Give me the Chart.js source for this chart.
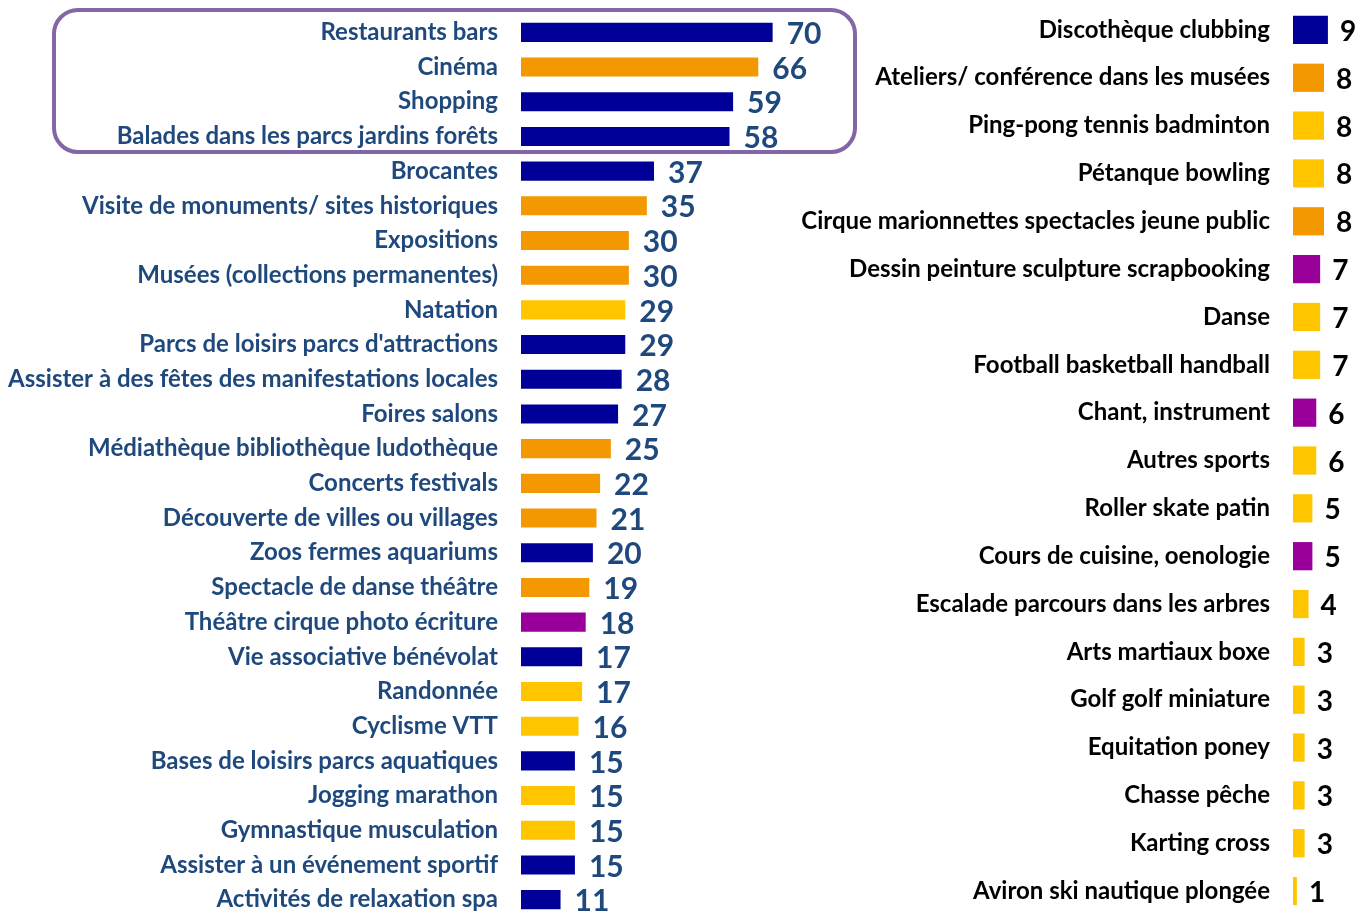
<!DOCTYPE html>
<html>
<head>
<meta charset="utf-8">
<script src="https://cdn.jsdelivr.net/npm/chart.js@4/dist/chart.umd.min.js"></script>
<style>
  html, body { margin: 0; padding: 0; background: #fff; overflow: hidden; }
  #page { position: relative; width: 1357px; height: 913px; overflow: hidden; }
  #boiteGauche { position: absolute; left: 0; top: 0; width: 860px; height: 932px; }
  #boiteDroite { position: absolute; left: 760px; top: -10px; width: 597px; height: 940px; }
  #cadre {
    position: absolute; left: 52px; top: 8px; width: 797px; height: 138px;
    border: 4px solid #8366A6; border-radius: 26px; pointer-events: none;
  }
</style>
</head>
<body>
<div id="page">
  <div id="boiteGauche"><canvas id="graphGauche"></canvas></div>
  <div id="boiteDroite"><canvas id="graphDroite"></canvas></div>
  <div id="cadre"></div>
</div>
<script>
// Activités les plus pratiquées (colonne de gauche)
const activitesGauche = [
  'Restaurants bars', 'Cinéma', 'Shopping', 'Balades dans les parcs jardins forêts',
  'Brocantes', 'Visite de monuments/ sites historiques', 'Expositions',
  'Musées (collections permanentes)', 'Natation', "Parcs de loisirs parcs d'attractions",
  'Assister à des fêtes des manifestations locales', 'Foires salons',
  'Médiathèque bibliothèque ludothèque', 'Concerts festivals',
  'Découverte de villes ou villages', 'Zoos fermes aquariums',
  'Spectacle de danse théâtre', 'Théâtre cirque photo écriture',
  'Vie associative bénévolat', 'Randonnée', 'Cyclisme VTT',
  'Bases de loisirs parcs aquatiques', 'Jogging marathon', 'Gymnastique musculation',
  'Assister à un événement sportif', 'Activités de relaxation spa'
];
const valeursGauche = [70, 66, 59, 58, 37, 35, 30, 30, 29, 29, 28, 27, 25, 22, 21, 20, 19, 18, 17, 17, 16, 15, 15, 15, 15, 11];
const typesGauche = [
  'sortie', 'culture', 'sortie', 'sortie', 'sortie', 'culture', 'culture', 'culture',
  'sport', 'sortie', 'sortie', 'sortie', 'culture', 'culture', 'culture', 'sortie',
  'culture', 'pratique', 'sortie', 'sport', 'sport', 'sortie', 'sport', 'sport',
  'sortie', 'sortie'
];

// Activités moins citées (colonne de droite)
const activitesDroite = [
  'Discothèque clubbing', 'Ateliers/ conférence dans les musées',
  'Ping-pong tennis badminton', 'Pétanque bowling',
  'Cirque marionnettes spectacles jeune public', 'Dessin peinture sculpture scrapbooking',
  'Danse', 'Football basketball handball', 'Chant, instrument', 'Autres sports',
  'Roller skate patin', 'Cours de cuisine, oenologie', 'Escalade parcours dans les arbres',
  'Arts martiaux boxe', 'Golf golf miniature', 'Equitation poney', 'Chasse pêche',
  'Karting cross', 'Aviron ski nautique plongée'
];
const valeursDroite = [9, 8, 8, 8, 8, 7, 7, 7, 6, 6, 5, 5, 4, 3, 3, 3, 3, 3, 1];
const typesDroite = [
  'sortie', 'culture', 'sport', 'sport', 'culture', 'pratique', 'sport', 'sport',
  'pratique', 'sport', 'sport', 'pratique', 'sport', 'sport', 'sport', 'sport',
  'sport', 'sport', 'sport'
];

// Couleurs par type d'activité
const couleurs = {
  sortie: '#000099',
  culture: '#F39800',
  sport: '#FFC600',
  pratique: '#990099'
};

const police = "Lato, 'DejaVu Sans', sans-serif";

// Plugin pour écrire la valeur au bout de chaque barre
const pluginValeurs = {
  id: 'valeurs',
  afterDatasetsDraw(chart, args, opts) {
    const ctx = chart.ctx;
    const meta = chart.getDatasetMeta(0);
    const data = chart.data.datasets[0].data;
    ctx.save();
    ctx.fillStyle = opts.color;
    ctx.font = 'bold ' + opts.size + 'px ' + police;
    ctx.textAlign = 'left';
    ctx.textBaseline = 'middle';
    meta.data.forEach(function (barre, i) {
      ctx.fillText(String(data[i]), barre.x + opts.gap, barre.y + opts.dy);
    });
    ctx.restore();
  }
};

function creerGraphique(idCanvas, labels, valeurs, types, reglages) {
  const config = {
    type: 'bar',
    data: {
      labels: labels,
      datasets: [{
        data: valeurs,
        backgroundColor: types.map(function (t) { return couleurs[t]; }),
        borderWidth: 0,
        barPercentage: reglages.epaisseur,
        categoryPercentage: 1
      }]
    },
    options: {
      indexAxis: 'y',
      responsive: true,
      maintainAspectRatio: false,
      animation: false,
      layout: { padding: { top: reglages.haut, bottom: 15, left: 0, right: 0 } },
      plugins: {
        legend: { display: false },
        tooltip: { enabled: false },
        valeurs: { color: reglages.couleurValeur, size: reglages.tailleValeur, gap: reglages.ecart, dy: 2 }
      },
      scales: {
        x: {
          min: 0,
          max: reglages.max,
          display: false
        },
        y: {
          // la marge des étiquettes passe par tickLength (sinon Chart.js réduit la zone du graphique)
          grid: { display: false, drawTicks: true, tickLength: reglages.marge },
          border: { display: false },
          afterFit: function (axe) { axe.width = reglages.largeurAxe; },
          ticks: {
            autoSkip: false,
            padding: 0,
            color: reglages.couleurTexte,
            font: { family: police, size: reglages.tailleTexte, weight: 'bold' }
          }
        }
      }
    },
    plugins: [pluginValeurs]
  };
  return new Chart(document.getElementById(idCanvas), config);
}

creerGraphique('graphGauche', activitesGauche, valeursGauche, typesGauche, {
  epaisseur: 0.55, haut: 15, max: 94.3, largeurAxe: 521, marge: 23,
  couleurTexte: '#1F497D', tailleTexte: 24, couleurValeur: '#1F497D',
  tailleValeur: 30, ecart: 14
});

creerGraphique('graphDroite', activitesDroite, valeursDroite, typesDroite, {
  epaisseur: 0.59, haut: 16, max: 16.5, largeurAxe: 533, marge: 23,
  couleurTexte: '#000000', tailleTexte: 24, couleurValeur: '#000000',
  tailleValeur: 28, ecart: 12
});
</script>
</body>
</html>
